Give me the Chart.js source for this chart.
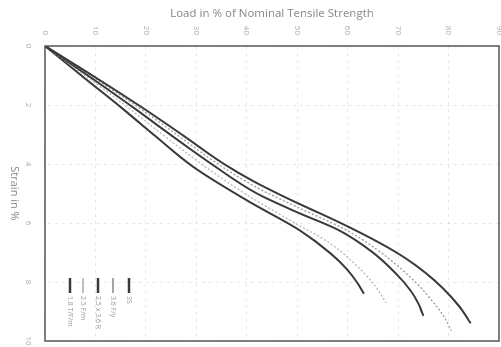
<!DOCTYPE html>
<html>
<head>
<meta charset="utf-8">
<script src="https://cdn.jsdelivr.net/npm/chart.js@4"></script>
<style>
html, body { margin: 0; padding: 0; background: #fff; overflow: hidden; }
/* the source chart is printed turned a quarter turn clockwise */
#wrap { position: absolute; left: 0; top: 0; width: 347px; height: 501px;
        transform-origin: 0 0; transform: translate(501px, 0) rotate(90deg); }
</style>
</head>
<body>
<div id="wrap"><canvas id="lineChart" width="347" height="501"></canvas></div>
<script>
// series names (guessed from the blurry legend)
var names = ["3S", "3.6 F/y", "2.5 x 3.6 R", "2.5 F/m", "1.8 T/F/m"];

// strain in %  /  load in % of nominal tensile strength
var strainE = [0, 1, 2, 3, 4, 4.6, 5.2, 6, 6.7, 7.2, 7.7, 8.2, 8.8, 9.4];
var loadE   = [0, 9.4, 18.5, 27.1, 35.5, 41.5, 48.5, 58.6, 66.6, 71.5, 75.5, 78.8, 82, 84.4];

var strainD = [0, 1, 2, 3, 4, 4.8, 5.5, 6.2, 6.9, 7.5, 8.1, 8.7, 9.2, 9.65];
var loadD   = [0, 9, 17.8, 26.1, 34.3, 42, 50.5, 59.3, 65.8, 70.2, 74, 77, 79.2, 80.5];

var strainC = [0, 1, 2, 3, 4, 5, 5.6, 6.25, 7, 7.7, 8.3, 8.8, 9.15];
var loadC   = [0, 8.5, 16.8, 24.8, 33, 42, 49.5, 58.3, 65, 69.5, 72.5, 74.2, 75];

var strainB = [0, 1, 2, 3, 4, 5, 5.9, 6.7, 7.4, 8.1, 8.7];
var loadB   = [0, 7.9, 15.8, 23.3, 31, 39.6, 48.5, 56.6, 61.5, 65.3, 67.6];

var strainA = [0, 1, 2, 3, 4.1, 5.3, 6.25, 7.03, 7.6, 8.05, 8.4];
var loadA   = [0, 7.2, 14.5, 21.5, 29.4, 40.7, 50.5, 56.6, 60, 62, 63.2];

function pts(xs, ys) {
    return xs.map(function (x, i) { return {x: x, y: ys[i]}; });
}

var dark = "#3a3a3a", gray = "#9a9a9a", light = "#b8b8b8";

// legend drawn inside the plot, lower right corner
var insideLegend = {
    id: 'insideLegend',
    afterDraw: function (chart) {
        var ctx = chart.ctx, a = chart.chartArea;
        var offs = [84, 68, 53, 38, 25];
        ctx.save();
        ctx.font = "7px 'Open Sans'";
        ctx.fillStyle = "#999";
        ctx.textBaseline = "middle";
        chart.data.datasets.forEach(function (ds, i) {
            var y = a.bottom - offs[i];
            ctx.strokeStyle = ds.borderColor;
            ctx.lineWidth = ds.borderWidth + 0.5;
            ctx.setLineDash([]);
            ctx.beginPath();
            ctx.moveTo(a.right - 63, y);
            ctx.lineTo(a.right - 48, y);
            ctx.stroke();
            ctx.fillText(ds.label, a.right - 45, y);
        });
        // frame round the plot
        ctx.strokeStyle = "#555";
        ctx.lineWidth = 1.5;
        ctx.strokeRect(a.left, a.top, a.right - a.left, a.bottom - a.top);
        ctx.restore();
    }
};

var ctxL = document.getElementById("lineChart").getContext('2d');
var myLineChart = new Chart(ctxL, {
    type: 'line',
    data: {
        datasets: [
            {label: names[0], data: pts(strainE, loadE), borderColor: dark, borderWidth: 2},
            {label: names[1], data: pts(strainD, loadD), borderColor: gray, borderWidth: 1.3, borderDash: [2, 2]},
            {label: names[2], data: pts(strainC, loadC), borderColor: dark, borderWidth: 2},
            {label: names[3], data: pts(strainB, loadB), borderColor: light, borderWidth: 1.3, borderDash: [2, 2]},
            {label: names[4], data: pts(strainA, loadA), borderColor: dark, borderWidth: 2}
        ]
    },
    options: {
        responsive: false,
        animation: false,
        cubicInterpolationMode: 'monotone',
        pointRadius: 0,
        layout: {padding: {top: 2, right: 6, left: 0, bottom: 0}},
        plugins: {legend: {display: false}, tooltip: {enabled: false}},
        scales: {
            x: {
                type: 'linear', min: 0, max: 10,
                ticks: {stepSize: 2, padding: 12, color: "#aaa", font: {family: "Open Sans", size: 8}},
                grid: {color: "rgba(0,0,0,0.09)", drawTicks: false},
                border: {display: false, dash: [3, 4]},
                title: {display: true, text: "Strain in %", color: "#888", padding: 8,
                        font: {family: "Open Sans", size: 11}},
                afterFit: function (s) { s.height = 45; s.paddingLeft = 0; s.paddingRight = 0; }
            },
            y: {
                min: 0, max: 90,
                ticks: {stepSize: 10, padding: 11, color: "#aaa", font: {family: "Open Sans", size: 8}},
                grid: {color: "rgba(0,0,0,0.09)", drawTicks: false},
                border: {display: false, dash: [3, 4]},
                title: {display: true, text: "Load in % of Nominal Tensile Strength", color: "#888", padding: 7,
                        font: {family: "Open Sans", size: 11.5}},
                afterFit: function (s) { s.width = 46; s.paddingTop = 0; s.paddingBottom = 0; }
            }
        }
    },
    plugins: [insideLegend]
});
</script>
</body>
</html>
